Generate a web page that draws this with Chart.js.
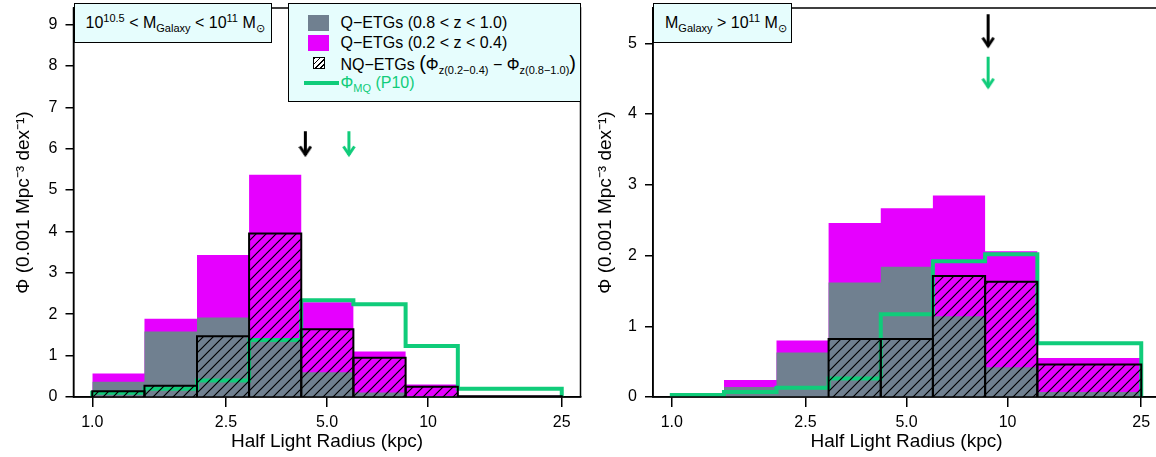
<!DOCTYPE html>
<html>
<head>
<meta charset="utf-8">
<script src="https://cdn.jsdelivr.net/npm/chart.js@4.4.1/dist/chart.umd.min.js"></script>
<style>
html, body { margin: 0; padding: 0; background: #fff; width: 1156px; height: 457px; overflow: hidden; }
body { position: relative; font-family: "Liberation Sans", Arial, sans-serif; color: #000; }
canvas { position: absolute; top: 0; }
#leftChart { left: 0; }
#rightChart { left: 590px; }
.tag { position: absolute; background: #e6fdfd; border: 1.5px solid #000; box-sizing: border-box; font-size: 16px; white-space: nowrap; }
sup, sub { font-size: 11px; line-height: 0; }
sup { vertical-align: 6px; }
sub { vertical-align: -4px; }
.row { position: absolute; left: 52px; height: 20px; line-height: 20px; }
.key { position: absolute; box-sizing: border-box; }
</style>
</head>
<body>
<canvas id="leftChart" width="592" height="457"></canvas>
<canvas id="rightChart" width="580" height="457"></canvas>

<div class="tag" style="left:73.5px; top:3px; width:198px; height:40px;">
  <span style="position:absolute; left:11px; top:10px;">10<sup>10.5</sup> &lt; M<sub>Galaxy</sub> &lt; 10<sup>11</sup> M<sub>⊙</sub></span>
</div>
<div class="tag" style="left:287.5px; top:3px; width:293.5px; height:99px;">
  <div class="key" style="left:19px; top:11px; width:21px; height:16px; background:#708090;"></div>
  <div class="row" style="top:9px;">Q−ETGs (0.8 &lt; z &lt; 1.0)</div>
  <div class="key" style="left:19px; top:31px; width:21px; height:16px; background:#e600ff;"></div>
  <div class="row" style="top:29px;">Q−ETGs (0.2 &lt; z &lt; 0.4)</div>
  <div class="key" style="left:24px; top:53px; width:12px; height:12px; border:1.5px solid #000; background:repeating-linear-gradient(135deg, #000 0 1.3px, #fff 1.3px 3.6px);"></div>
  <div class="row" style="top:49px;">NQ−ETGs <span style="font-size:20px;">(</span>Φ<sub>z(0.2−0.4)</sub> − Φ<sub>z(0.8−1.0)</sub><span style="font-size:20px;">)</span></div>
  <div class="key" style="left:15px; top:77px; width:35px; height:4px; background:#10cc7a;"></div>
  <div class="row" style="top:69px; color:#10cc7a;">Φ<sub>MQ</sub> (P10)</div>
</div>
<div class="tag" style="left:653px; top:3px; width:139px; height:40px;">
  <span style="position:absolute; left:11px; top:10px;">M<sub>Galaxy</sub> &gt; 10<sup>11</sup> M<sub>⊙</sub></span>
</div>

<script>
// bin edges in half light radius (kpc), shared by both panels
const binEdges = [1.0, 1.43, 2.05, 2.93, 4.19, 5.99, 8.57, 12.26, 25.0];
const xTicks = [1.0, 2.5, 5.0, 10, 25];
const xTickLabels = ['1.0', '2.5', '5.0', '10', '25'];

// left panel: 10^10.5 < M < 10^11
const qHighzLeft = [0.37, 1.58, 1.92, 1.38, 0.60, 0.11, 0.02, 0.0];
const qLowzLeft = [0.57, 1.89, 3.43, 5.37, 2.29, 1.10, 0.30, 0.03];
const nqLeft = [0.14, 0.27, 1.47, 3.95, 1.64, 0.95, 0.25, 0.02];
const p10Left = [0.10, 0.20, 0.40, 1.38, 2.34, 2.24, 1.23, 0.20];
const yTicksLeft = [0, 1, 2, 3, 4, 5, 6, 7, 8, 9];
// arrows: [x, yStart, yEnd]
const arrowBlackLeft = [4.31, 6.42, 5.85];
const arrowGreenLeft = [5.81, 6.42, 5.85];

// right panel: M > 10^11
const qHighzRight = [0.0, 0.14, 0.63, 1.62, 1.84, 1.14, 0.42, 0.07];
const qLowzRight = [0.0, 0.24, 0.80, 2.46, 2.67, 2.85, 2.06, 0.55];
const nqRight = [null, null, null, 0.82, 0.82, 1.71, 1.63, 0.46];
const p10Right = [0.03, 0.07, 0.13, 0.26, 1.17, 1.92, 2.02, 0.76];
const yTicksRight = [0, 1, 2, 3, 4, 5];
const arrowBlackRight = [8.75, 5.41, 4.96];
const arrowGreenRight = [8.75, 4.81, 4.38];

const MAGENTA = '#e600ff';
const GREY = '#708090';
const GREEN = '#10cc7a';

Chart.defaults.font.family = '"Liberation Sans", Arial, sans-serif';
Chart.defaults.color = '#000';

function makeHatch() {
    const s = 10;
    const c = document.createElement('canvas');
    c.width = s; c.height = s;
    const g = c.getContext('2d');
    g.strokeStyle = '#000';
    g.lineWidth = 1.2;
    g.beginPath();
    g.moveTo(0, s); g.lineTo(s, 0);
    g.moveTo(-1, 1); g.lineTo(1, -1);
    g.moveTo(s - 1, s + 1); g.lineTo(s + 1, s - 1);
    g.stroke();
    return document.createElement('canvas').getContext('2d').createPattern(c, 'repeat');
}

function makeHead(color) {
    const c = document.createElement('canvas');
    c.width = 14; c.height = 24;
    const g = c.getContext('2d');
    g.strokeStyle = color;
    g.lineWidth = 3;
    g.beginPath();
    g.moveTo(1.5, 3.5); g.lineTo(7, 11.5); g.lineTo(12.5, 3.5);
    g.stroke();
    return c;
}

const hatch = makeHatch();

// outline of a histogram as corner points
function stepPoints(vals) {
    const pts = [{ x: binEdges[0], y: 0 }];
    vals.forEach((v, i) => {
        pts.push({ x: binEdges[i], y: v });
        pts.push({ x: binEdges[i + 1], y: v });
    });
    pts.push({ x: binEdges[binEdges.length - 1], y: 0 });
    return pts;
}

function buildDatasets(qHighz, qLowz, nq, p10, arrows) {
    const sets = [];
    sets.push({ data: stepPoints(qLowz), borderWidth: 0, backgroundColor: MAGENTA, fill: 'origin', pointRadius: 0, order: 10 });
    sets.push({ data: stepPoints(qHighz), borderWidth: 0, backgroundColor: GREY, fill: 'origin', pointRadius: 0, order: 9 });
    sets.push({ data: stepPoints(p10), borderColor: GREEN, borderWidth: 4, fill: false, pointRadius: 0, order: 8, borderJoinStyle: 'miter' });
    nq.forEach((v, i) => {
        if (v === null) return;
        sets.push({
            data: [
                { x: binEdges[i], y: 0 }, { x: binEdges[i], y: v },
                { x: binEdges[i + 1], y: v }, { x: binEdges[i + 1], y: 0 }
            ],
            borderColor: '#000', borderWidth: 2, backgroundColor: hatch,
            fill: 'origin', pointRadius: 0, order: 7, borderJoinStyle: 'miter'
        });
    });
    arrows.forEach(a => {
        const head = makeHead(a.color);
        sets.push({
            data: [{ x: a.v[0], y: a.v[1] }, { x: a.v[0], y: a.v[2] }],
            borderColor: a.color, borderWidth: 3, fill: false, order: 1,
            pointStyle: ctx => ctx.dataIndex === 1 ? head : false,
            pointRadius: ctx => ctx.dataIndex === 1 ? 5 : 0
        });
    });
    return sets;
}

const framePlugin = {
    id: 'frame',
    afterDraw(chart) {
        const { ctx, chartArea: a } = chart;
        ctx.save();
        ctx.strokeStyle = '#000';
        ctx.lineWidth = 1.5;
        ctx.strokeRect(a.left, a.top, a.right - a.left, a.bottom - a.top);
        ctx.restore();
    }
};

function makeChart(id, datasets, yMax, yTicks, padLeft, yWidth, padRight) {
    return new Chart(document.getElementById(id), {
        type: 'line',
        data: { datasets: datasets },
        plugins: [framePlugin],
        options: {
            responsive: false,
            animation: false,
            layout: { padding: { left: padLeft, right: padRight, top: 3.3, bottom: 0 } },
            plugins: { legend: { display: false }, tooltip: { enabled: false } },
            elements: { line: { tension: 0 } },
            scales: {
                x: {
                    type: 'logarithmic',
                    min: 0.879,
                    max: 28.43,
                    afterBuildTicks: s => { s.ticks = xTicks.map(v => ({ value: v })); },
                    afterFit: s => { s.height = 60; s.paddingLeft = 0; s.paddingRight = 0; },
                    ticks: {
                        autoSkip: false, maxRotation: 0, padding: 6,
                        font: { size: 16 },
                        callback: (v, i) => xTickLabels[i]
                    },
                    grid: { drawOnChartArea: false, drawTicks: true, tickLength: 10, color: '#000', lineWidth: 1.5 },
                    border: { display: true, color: '#000', width: 1.5 },
                    title: { display: true, text: 'Half Light Radius (kpc)', font: { size: 19 }, padding: { top: 0, bottom: 3.6 } }
                },
                y: {
                    min: 0,
                    max: yMax,
                    afterBuildTicks: s => { s.ticks = yTicks.map(v => ({ value: v })); },
                    afterFit: s => { s.width = yWidth; s.paddingTop = 0; s.paddingBottom = 0; },
                    ticks: { padding: 8, font: { size: 16 } },
                    grid: { drawOnChartArea: false, drawTicks: true, tickLength: 8, color: '#000', lineWidth: 1.5 },
                    border: { display: true, color: '#000', width: 1.5 },
                    title: { display: true, text: 'Φ (0.001 Mpc⁻³ dex⁻¹)', font: { size: 19 }, padding: { top: 4, bottom: 4 } }
                }
            }
        }
    });
}

makeChart('leftChart',
    buildDatasets(qHighzLeft, qLowzLeft, nqLeft, p10Left, [
        { v: arrowBlackLeft, color: '#000' },
        { v: arrowGreenLeft, color: GREEN }
    ]),
    9.4, yTicksLeft, 8.6, 64.9, 11.5);

makeChart('rightChart',
    buildDatasets(qHighzRight, qLowzRight, nqRight, p10Right, [
        { v: arrowBlackRight, color: '#000' },
        { v: arrowGreenRight, color: GREEN }
    ]),
    5.5, yTicksRight, 0, 63, 10);
</script>
</body>
</html>
